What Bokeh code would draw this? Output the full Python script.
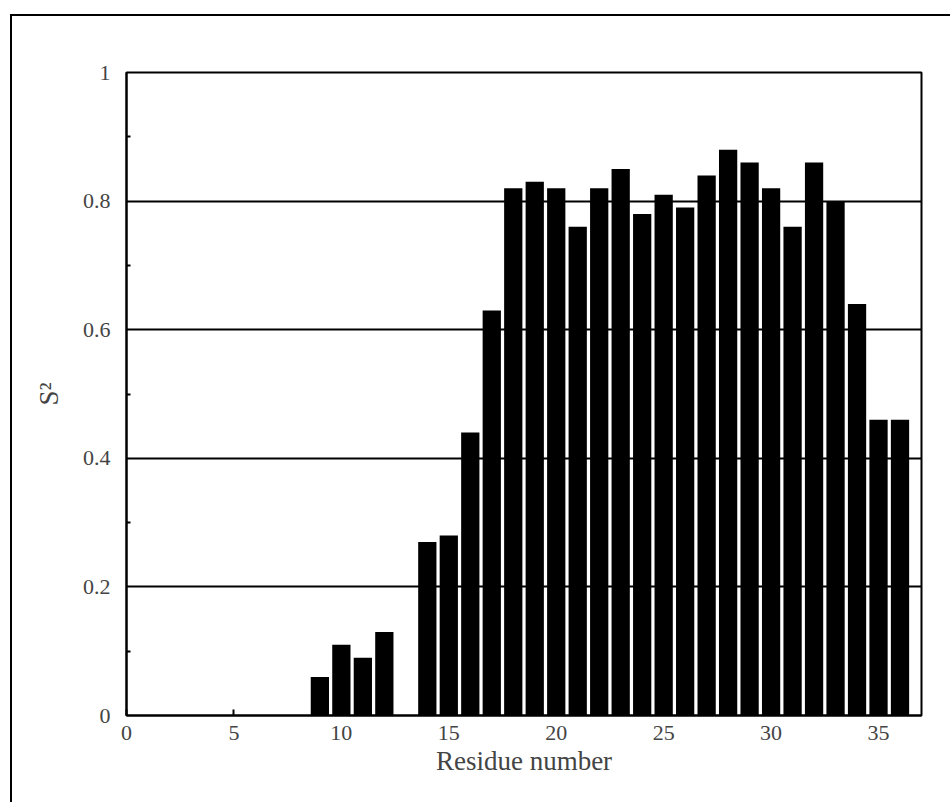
from bokeh.plotting import figure
from bokeh.models import Range1d, FixedTicker, CustomJSTickFormatter
from bokeh.embed import file_html
from bokeh.resources import INLINE

residues = [9, 10, 11, 12, 14, 15, 16, 17, 18, 19, 20, 21, 22, 23, 24, 25, 26,
            27, 28, 29, 30, 31, 32, 33, 34, 35, 36]
s2_values = [0.06, 0.11, 0.09, 0.13, 0.27, 0.28, 0.44, 0.63, 0.82, 0.83, 0.82,
             0.76, 0.82, 0.85, 0.78, 0.81, 0.79, 0.84, 0.88, 0.86, 0.82, 0.76,
             0.86, 0.80, 0.64, 0.46, 0.46]
x_ticks = [0, 5, 10, 15, 20, 25, 30, 35]
y_ticks = [0, 0.2, 0.4, 0.6, 0.8, 1.0]
y_minor = [0.1, 0.3, 0.5, 0.7, 0.9]

FONT = "Liberation Serif"

# outer frame (top and left edges) starts at x=10, y=14 of the page
OX, OY = 10, 14
BW = 2

p = figure(width=950 - OX - BW, height=802 - OY - BW, output_backend="svg",
           toolbar_location=None,
           x_range=Range1d(0, 37), y_range=Range1d(0, 1),
           min_border_left=126 - OX - BW, min_border_right=31,
           min_border_top=72 - OY - BW, min_border_bottom=89)
p.styles = {"margin-left": f"{OX}px", "margin-top": f"{OY}px",
            "border-left": f"{BW}px solid black", "border-top": f"{BW}px solid black",
            "box-sizing": "content-box"}

p.vbar(x=residues, top=s2_values, width=0.85, fill_color="black", line_color=None)

p.outline_line_color = "black"
p.outline_line_width = 2
p.outline_line_alpha = 1

p.xgrid.grid_line_color = None
p.ygrid.grid_line_color = "black"
p.ygrid.grid_line_width = 2
p.ygrid.ticker = FixedTicker(ticks=y_ticks)

fmt = CustomJSTickFormatter(code="return tick.toFixed(1).replace(/\\.0$/, '');")

xa = p.xaxis[0]
xa.ticker = FixedTicker(ticks=x_ticks)
xa.axis_label = "Residue number"
xa.axis_label_text_font = FONT
xa.axis_label_text_font_size = "27px"
xa.axis_label_text_font_style = "normal"
xa.axis_label_standoff = 3
xa.major_label_text_font = FONT
xa.major_label_text_font_size = "22px"
xa.major_label_standoff = 10
xa.major_tick_in = 6
xa.major_tick_out = 0
xa.minor_tick_line_color = None
xa.axis_line_width = 2
xa.major_tick_line_width = 2

ya = p.yaxis[0]
ya.ticker = FixedTicker(ticks=y_ticks, minor_ticks=y_minor)
ya.formatter = fmt
ya.axis_label = "S²"
ya.axis_label_text_font = FONT
ya.axis_label_text_font_size = "27px"
ya.axis_label_text_font_style = "normal"
ya.axis_label_standoff = 16
ya.major_label_text_font = FONT
ya.major_label_text_font_size = "22px"
ya.major_label_standoff = 16
ya.major_tick_in = 6
ya.major_tick_out = 0
ya.minor_tick_in = 4
ya.minor_tick_out = 0
ya.minor_tick_line_width = 2
ya.axis_line_width = 2

open("out.html", "w").write(file_html(p, INLINE))
